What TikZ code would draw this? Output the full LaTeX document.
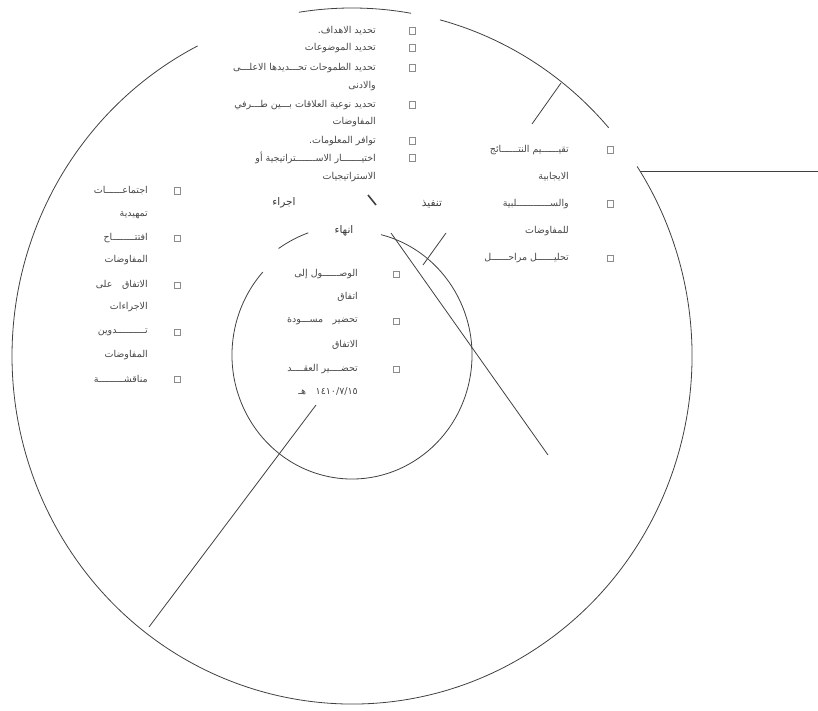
\documentclass[tikz,border=0pt]{standalone}
\usepackage{fontspec}
\newfontfamily\arabicfont[Script=Arabic]{DejaVu Sans}
\TeXXeTstate=1
\newcommand{\artxt}[1]{{\arabicfont\beginR #1\endR}}

\begin{document}
\begin{tikzpicture}[x=1pt, y=-1pt,
		artext/.style={anchor=east, inner sep=0pt, text=black!72, font=\fontsize{9.5}{11}\selectfont},
		stagetext/.style={anchor=center, inner sep=0pt, text=black!78, font=\fontsize{10.5}{12}\selectfont},
		boxnode/.style={rectangle, draw=black!45, line width=0.5pt, minimum size=6.5pt, inner sep=0pt},
		ringline/.style={draw=black!75, line width=0.8pt},
		]
		\useasboundingbox (0,0) rectangle (818,711);

		% Coordinates
		\coordinate (ring_center)	at (352,356);
		\coordinate (core_center)	at (352,355);
		\coordinate (tick_top_a)	at (561,83);
		\coordinate (tick_top_b)	at (532,124);
		\coordinate (exit_a)		at (640,171);
		\coordinate (exit_b)		at (818,171);
		\coordinate (diag_a)		at (391,233);
		\coordinate (diag_b)		at (548,455);
		\coordinate (tick_mid_a)	at (446,233);
		\coordinate (tick_mid_b)	at (423,265);
		\coordinate (dash_a)		at (368,195);
		\coordinate (dash_b)		at (376,205);
		\coordinate (spoke_a)		at (316,405);
		\coordinate (spoke_b)		at (149,627);

		% Nodes
		\node[artext]		(top_line1)		at (376, 31)	{\artxt{تحديد الاهداف.}};
		\node[artext]		(top_line2)		at (376, 48)	{\artxt{تحديد الموضوعات}};
		\node[artext]		(top_line3)		at (376, 68)	{\artxt{تحديد الطموحات تحـــديدها الاعلـــى}};
		\node[artext]		(top_line4)		at (376, 86)	{\artxt{والادنى}};
		\node[artext]		(top_line5)		at (376, 105)	{\artxt{تحديد نوعية العلاقات بـــين طـــرفي}};
		\node[artext]		(top_line6)		at (376, 122)	{\artxt{المفاوضات}};
		\node[artext]		(top_line7)		at (376, 141)	{\artxt{توافر المعلومات.}};
		\node[artext]		(top_line8)		at (376, 158)	{\artxt{اختيـــــــار الاســـــــتراتيجية أو}};
		\node[artext]		(top_line9)		at (376, 177)	{\artxt{الاستراتيجيات}};
		\node[boxnode]		(top_box1)		at (412, 31)	{};
		\node[boxnode]		(top_box2)		at (412, 48)	{};
		\node[boxnode]		(top_box3)		at (412, 68)	{};
		\node[boxnode]		(top_box5)		at (412, 105)	{};
		\node[boxnode]		(top_box7)		at (412, 141)	{};
		\node[boxnode]		(top_box8)		at (412, 158)	{};

		\node[artext]		(right_line1)	at (569, 150)	{\artxt{تقيــــــيم النتــــــائج}};
		\node[artext]		(right_line2)	at (569, 177)	{\artxt{الايجابية}};
		\node[artext]		(right_line3)	at (569, 204)	{\artxt{والســــــــــــلبية}};
		\node[artext]		(right_line4)	at (569, 231)	{\artxt{للمفاوضات}};
		\node[artext]		(right_line5)	at (569, 258)	{\artxt{تحليــــــل مراحــــــل}};
		\node[boxnode]		(right_box1)	at (610, 150)	{};
		\node[boxnode]		(right_box3)	at (610, 204)	{};
		\node[boxnode]		(right_box5)	at (610, 258)	{};

		\node[artext]		(left_line1)	at (148, 191)	{\artxt{اجتماعــــــات}};
		\node[artext]		(left_line2)	at (148, 215)	{\artxt{تمهيدية}};
		\node[artext]		(left_line3)	at (148, 238)	{\artxt{افتتــــــــاح}};
		\node[artext]		(left_line4)	at (148, 260)	{\artxt{المفاوضات}};
		\node[artext]		(left_line5)	at (148, 285)	{\artxt{الاتفاق\quad على}};
		\node[artext]		(left_line6)	at (148, 307)	{\artxt{الاجراءات}};
		\node[artext]		(left_line7)	at (148, 332)	{\artxt{تــــــــــدوين}};
		\node[artext]		(left_line8)	at (148, 355)	{\artxt{المفاوضات}};
		\node[artext]		(left_line9)	at (148, 379)	{\artxt{مناقشـــــــــة}};
		\node[boxnode]		(left_box1)		at (177, 191)	{};
		\node[boxnode]		(left_box3)		at (177, 238)	{};
		\node[boxnode]		(left_box5)		at (177, 285)	{};
		\node[boxnode]		(left_box7)		at (177, 332)	{};
		\node[boxnode]		(left_box9)		at (177, 379)	{};

		\node[artext]		(core_line1)	at (358, 274)	{\artxt{الوصــــــول إلى}};
		\node[artext]		(core_line2)	at (358, 297)	{\artxt{اتفاق}};
		\node[artext]		(core_line3)	at (358, 321)	{\artxt{تحضير\quad مســـودة}};
		\node[artext]		(core_line4)	at (358, 345)	{\artxt{الاتفاق}};
		\node[artext]		(core_line5)	at (358, 369)	{\artxt{تحضــــير العقــــد}};
		\node[artext]		(core_date)		at (358, 391)	{{\arabicfont\beginR\beginL ١٤١٠/٧/١٥\endL{}\quad هـ\endR}};
		\node[boxnode]		(core_box1)		at (396, 274)	{};
		\node[boxnode]		(core_box3)		at (396, 321)	{};
		\node[boxnode]		(core_box5)		at (396, 369)	{};

		\node[stagetext]	(stage_do)		at (284, 203)	{\artxt{اجراء}};
		\node[stagetext]	(stage_run)		at (432, 204)	{\artxt{تنفيذ}};
		\node[stagetext]	(stage_end)		at (344, 231)	{\artxt{انهاء}};

		% Lines
		\draw[ringline] (ring_center) ++(-99:340 and 348) arc[start angle=-99, end angle=-80, x radius=340, y radius=348];
		\draw[ringline] (ring_center) ++(-75:340 and 348) arc[start angle=-75, end angle=-41, x radius=340, y radius=348];
		\draw[ringline] (ring_center) ++(-33:340 and 348) arc[start angle=-33, end angle=243, x radius=340, y radius=348];
		\draw[ringline] (core_center) ++(-76:120 and 124) arc[start angle=-76, end angle=222, x radius=120, y radius=124];
		\draw[ringline] (core_center) ++(-125:128 and 130) arc[start angle=-125, end angle=-110, x radius=128, y radius=130];
		\draw[ringline] (tick_top_a)	-- (tick_top_b);
		\draw[ringline] (exit_a)		-- (exit_b);
		\draw[ringline] (diag_a)		-- (diag_b);
		\draw[ringline] (tick_mid_a)	-- (tick_mid_b);
		\draw[ringline] (spoke_a)		-- (spoke_b);
		\draw[ringline, line width=1.6pt] (dash_a) -- (dash_b);
\end{tikzpicture}
\end{document}
